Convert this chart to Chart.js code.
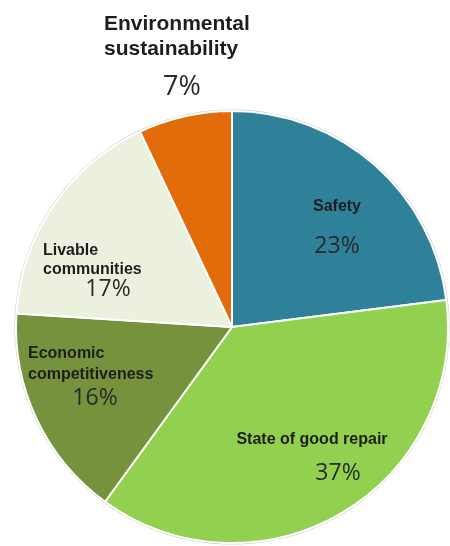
<!DOCTYPE html>
<html>
<head>
<meta charset="utf-8">
<script src="https://cdn.jsdelivr.net/npm/chart.js@4/dist/chart.umd.min.js"></script>
<style>
html,body{margin:0;padding:0;background:#fff;}
#wrap{width:450px;height:546px;position:relative;}
</style>
</head>
<body>
<div id="wrap"><canvas id="c" width="450" height="546"></canvas></div>
<script>
const categories = ['Safety', 'State of good repair', 'Economic competitiveness', 'Livable communities', 'Environmental sustainability'];
const shares = [23, 37, 16, 17, 7];
const nameLines = [['Safety'], ['State of good repair'], ['Economic', 'competitiveness'], ['Livable', 'communities'], ['Environmental', 'sustainability']];
const sliceColors = ['#2F8199', '#92D050', '#76923C', '#ECF0DF', '#E36C0A'];

// label layout: offsets from pie centre (px)
const labelLayout = [
  {align: 'center', nx: 105, ny: [-120], px: 105, py: -81, nameSize: 16, pctSize: 23},
  {align: 'center', nx: 80, ny: [113], px: 106, py: 146, nameSize: 16, pctSize: 23},
  {align: 'left', nx: -204, ny: [27, 48], px: -137, py: 71, nameSize: 16, pctSize: 23},
  {align: 'left', nx: -189, ny: [-76, -57], px: -124, py: -38, nameSize: 16, pctSize: 23},
  {align: 'left', nx: -128, ny: [-303, -278], px: -50, py: -240, nameSize: 21, pctSize: 27}
];

const rimPlugin = {
  id: 'rim',
  beforeDatasetsDraw(chart) {
    const arc0 = chart.getDatasetMeta(0).data[0];
    const ctx = chart.ctx;
    ctx.save();
    ctx.beginPath();
    ctx.arc(arc0.x, arc0.y, arc0.outerRadius + 1.5, 0, Math.PI * 2);
    ctx.fillStyle = 'rgba(170,170,170,0.6)';
    ctx.fill();
    ctx.beginPath();
    ctx.arc(arc0.x, arc0.y, arc0.outerRadius + 0.5, 0, Math.PI * 2);
    ctx.fillStyle = '#ffffff';
    ctx.fill();
    ctx.restore();
  }
};

const labelPlugin = {
  id: 'sliceLabels',
  afterDraw(chart) {
    const ctx = chart.ctx;
    const meta = chart.getDatasetMeta(0);
    const arc0 = meta.data[0];
    const cx = arc0.x, cy = arc0.y;
    ctx.save();
    ctx.textBaseline = 'middle';
    const values = chart.data.datasets[0].data;
    labelLayout.forEach((L, i) => {
      ctx.fillStyle = '#1e1e1e';
      ctx.font = 'bold ' + L.nameSize + 'px "Liberation Sans", Arial, sans-serif';
      ctx.textAlign = L.align;
      nameLines[i].forEach((line, j) => {
        ctx.fillText(line, cx + L.nx, cy + L.ny[j]);
      });
      ctx.fillStyle = '#2a2a2a';
      ctx.font = L.pctSize + 'px "Open Sans", "Liberation Sans", sans-serif';
      ctx.textAlign = 'center';
      ctx.fillText(values[i] + '%', cx + L.px, cy + L.py);
    });
    ctx.restore();
  }
};

new Chart(document.getElementById('c'), {
  type: 'pie',
  data: {
    labels: categories,
    datasets: [{
      data: shares,
      backgroundColor: sliceColors,
      borderColor: '#ffffff',
      borderWidth: 2
    }]
  },
  options: {
    responsive: false,
    animation: false,
    layout: {padding: {top: 110, left: 14, right: 0, bottom: 2}},
    plugins: {legend: {display: false}, tooltip: {enabled: false}}
  },
  plugins: [rimPlugin, labelPlugin]
});
</script>
</body>
</html>
